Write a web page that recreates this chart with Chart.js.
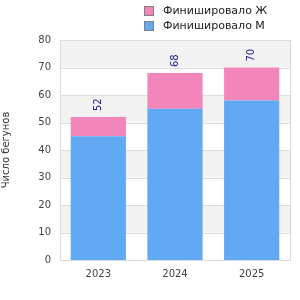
<!DOCTYPE html>
<html>
<head>
<meta charset="utf-8">
<script src="https://cdn.jsdelivr.net/npm/chart.js@4/dist/chart.umd.min.js"></script>
<style>
  html, body { margin: 0; padding: 0; background: #fff; }
  #wrap { position: relative; width: 300px; height: 300px; }
  #legend { position: absolute; left: 144px; top: 3px; font: 11px "DejaVu Sans", sans-serif; color: #222; }
  #legend div { display: flex; align-items: center; height: 15px; }
  #legend span.box { width: 8px; height: 8px; border: 1px solid #808080; margin-right: 9px; }
</style>
</head>
<body>
<div id="wrap">
  <canvas id="chart" width="300" height="300"></canvas>
  <div id="legend"></div>
</div>
<script>
const years = ['2023', '2024', '2025'];
const finishedMen = [45, 55, 58];
const finishedWomen = [7, 13, 12];
const yTicks = [0, 10, 20, 30, 40, 50, 60, 70, 80];

const FONT = { family: '"DejaVu Sans", sans-serif', size: 10 };
const COLORS = {
  men: '#62a9f4',
  women: '#f285ba',
  band: '#f2f2f2',
  grid: '#dcdcdc',
  label: '#1c1c96',
  tick: '#444',
};

// grey bands on every other 10-step, plus the frame round the plot
const bandsPlugin = {
  id: 'bands',
  beforeDatasetsDraw(chart) {
    const { ctx, chartArea, scales } = chart;
    const y = scales.y;
    ctx.save();
    ctx.fillStyle = COLORS.band;
    for (let i = 1; i < yTicks.length; i += 2) {
      const top = y.getPixelForValue(yTicks[i + 1] ?? yTicks[i] + 10);
      const bottom = y.getPixelForValue(yTicks[i]);
      ctx.fillRect(chartArea.left, top, chartArea.right - chartArea.left, bottom - top);
    }
    ctx.strokeStyle = COLORS.grid;
    ctx.lineWidth = 1;
    for (const t of yTicks) {
      const py = Math.round(y.getPixelForValue(t)) + 0.5;
      ctx.beginPath();
      ctx.moveTo(chartArea.left, py);
      ctx.lineTo(chartArea.right, py);
      ctx.stroke();
    }
    ctx.strokeRect(Math.round(chartArea.left) + 0.5, Math.round(chartArea.top) + 0.5,
      Math.round(chartArea.right - chartArea.left), Math.round(chartArea.bottom - chartArea.top));
    ctx.restore();
  },
};

// totals above each stack, rotated
const totalsPlugin = {
  id: 'totals',
  afterDatasetsDraw(chart) {
    const { ctx, scales } = chart;
    const meta = chart.getDatasetMeta(0);
    ctx.save();
    ctx.fillStyle = COLORS.label;
    ctx.font = `10px ${FONT.family}`;
    ctx.textAlign = 'left';
    ctx.textBaseline = 'middle';
    years.forEach((_, i) => {
      const total = finishedMen[i] + finishedWomen[i];
      const x = meta.data[i].x;
      const y = scales.y.getPixelForValue(total) - 6;
      ctx.save();
      ctx.translate(x, y);
      ctx.rotate(-Math.PI / 2);
      ctx.fillText(String(total), 0, 0);
      ctx.restore();
    });
    ctx.restore();
  },
};

const datasets = [
  { label: 'Финишировало М', data: finishedMen, backgroundColor: COLORS.men },
  { label: 'Финишировало Ж', data: finishedWomen, backgroundColor: COLORS.women },
];

const legend = document.getElementById('legend');
datasets.slice().reverse().forEach((ds) => {
  const row = document.createElement('div');
  row.innerHTML = `<span class="box" style="background:${ds.backgroundColor}"></span>${ds.label}`;
  legend.appendChild(row);
});

new Chart(document.getElementById('chart'), {
  type: 'bar',
  data: { labels: years, datasets },
  plugins: [bandsPlugin, totalsPlugin],
  options: {
    responsive: false,
    animation: false,
    layout: { padding: { top: 40, right: 10, left: 0, bottom: 0 } },
    plugins: {
      legend: { display: false },
      tooltip: { enabled: false },
    },
    scales: {
      x: {
        stacked: true,
        grid: { display: false, drawTicks: false },
        border: { display: false },
        ticks: { font: FONT, color: COLORS.tick, padding: 8 },
        afterFit: (scale) => { scale.height = 40; },
      },
      y: {
        stacked: true,
        min: 0,
        max: 80,
        grid: { display: false, drawTicks: false },
        border: { display: false },
        ticks: { stepSize: 10, font: FONT, color: COLORS.tick, padding: 9 },
        title: { display: true, text: 'Число бегунов', font: FONT, color: '#333', padding: { top: 0, bottom: 0 } },
        afterFit: (scale) => { scale.width = 60; },
      },
    },
  },
});
</script>
</body>
</html>
